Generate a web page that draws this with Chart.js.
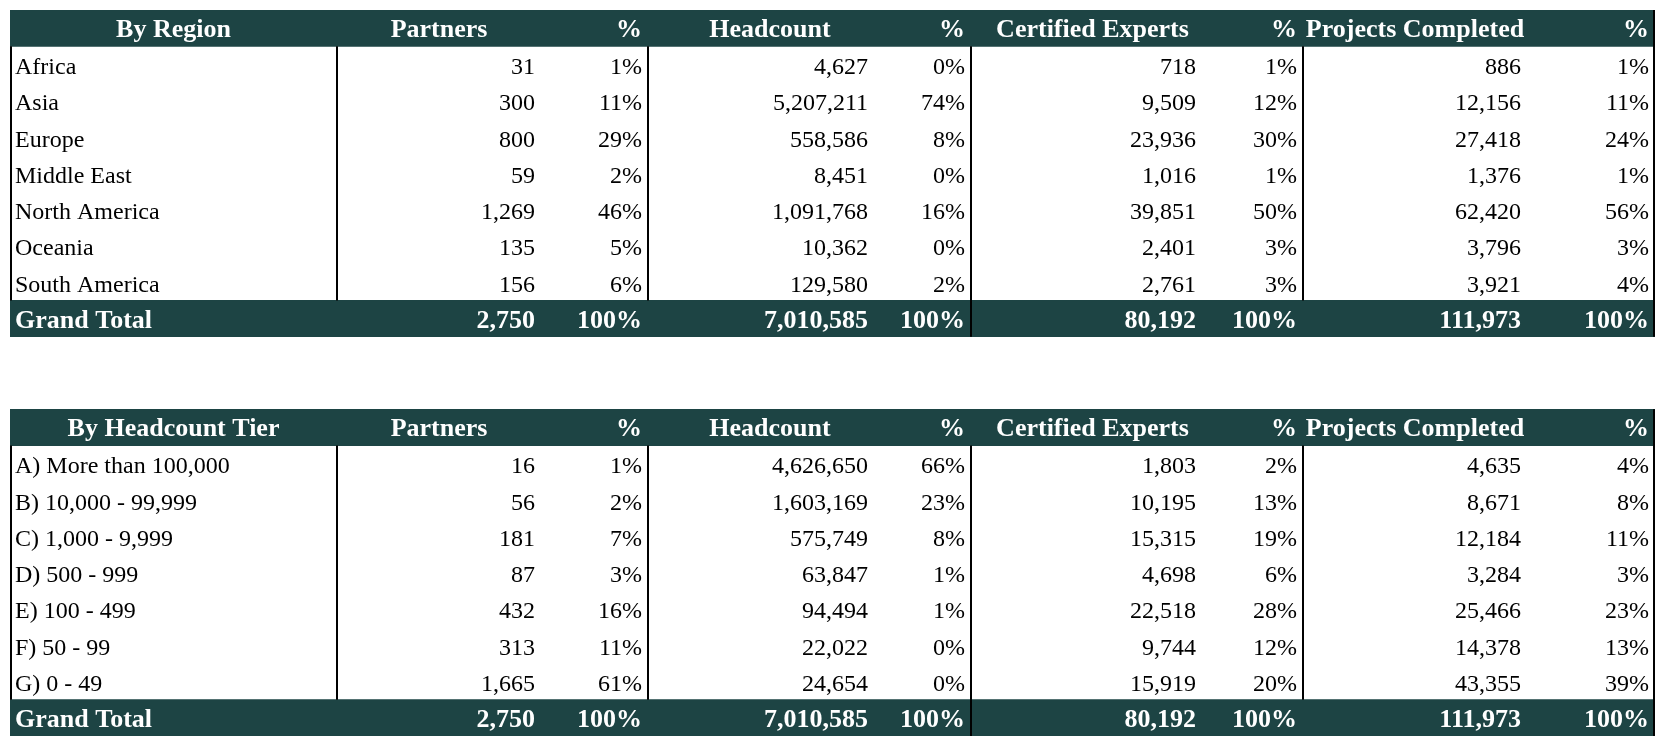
<!DOCTYPE html>
<html>
<head>
<meta charset="utf-8">
<script src="https://cdn.jsdelivr.net/npm/chart.js@4"></script>
<style>
html, body { margin: 0; padding: 0; background: #fff; }
canvas { display: block; }
</style>
</head>
<body>
<canvas id="tbl" width="1672" height="752"></canvas>
<script>
var headers = ['Partners', '%', 'Headcount', '%', 'Certified Experts', '%', 'Projects Completed', '%'];
var tableTitles = ['By Region', 'By Headcount Tier'];

var regions = ['Africa', 'Asia', 'Europe', 'Middle East', 'North America', 'Oceania', 'South America'];
var regionPartners = [31, 300, 800, 59, 1269, 135, 156];
var regionPartnersPct = [1, 11, 29, 2, 46, 5, 6];
var regionHeadcount = [4627, 5207211, 558586, 8451, 1091768, 10362, 129580];
var regionHeadcountPct = [0, 74, 8, 0, 16, 0, 2];
var regionExperts = [718, 9509, 23936, 1016, 39851, 2401, 2761];
var regionExpertsPct = [1, 12, 30, 1, 50, 3, 3];
var regionProjects = [886, 12156, 27418, 1376, 62420, 3796, 3921];
var regionProjectsPct = [1, 11, 24, 1, 56, 3, 4];

var tiers = ['A) More than 100,000', 'B) 10,000 - 99,999', 'C) 1,000 - 9,999', 'D) 500 - 999', 'E) 100 - 499', 'F) 50 - 99', 'G) 0 - 49'];
var tierPartners = [16, 56, 181, 87, 432, 313, 1665];
var tierPartnersPct = [1, 2, 7, 3, 16, 11, 61];
var tierHeadcount = [4626650, 1603169, 575749, 63847, 94494, 22022, 24654];
var tierHeadcountPct = [66, 23, 8, 1, 1, 0, 0];
var tierExperts = [1803, 10195, 15315, 4698, 22518, 9744, 15919];
var tierExpertsPct = [2, 13, 19, 6, 28, 12, 20];
var tierProjects = [4635, 8671, 12184, 3284, 25466, 14378, 43355];
var tierProjectsPct = [4, 8, 11, 3, 23, 13, 39];

var grandTotal = [2750, 7010585, 80192, 111973];
var grandTotalPct = [100, 100, 100, 100];

// column edges on the x scale (table units)
var colEdges = [0, 327, 531, 638, 864, 961, 1192, 1293, 1517, 1645];
// small nudges of the centred header texts
var headShift = [0, 0, 0, 9, 0, 6, 0, 0, 0];
var tableWidth = colEdges[colEdges.length - 1];
var bandColor = '#1d4444';

function fmt(v) { return v.toLocaleString('en-US'); }

function tableRows(title, names, cols) {
	var out = [{ kind: 'head', cells: [title].concat(headers) }];
	names.forEach(function (n, i) {
		var cells = [n];
		cols.forEach(function (c) {
			cells.push(fmt(c[0][i]));
			cells.push(c[1][i] + '%');
		});
		out.push({ kind: 'row', cells: cells });
	});
	var t = ['Grand Total'];
	grandTotal.forEach(function (v, i) {
		t.push(fmt(v));
		t.push(grandTotalPct[i] + '%');
	});
	out.push({ kind: 'total', cells: t });
	return out;
}

var rows = tableRows(tableTitles[0], regions, [
	[regionPartners, regionPartnersPct],
	[regionHeadcount, regionHeadcountPct],
	[regionExperts, regionExpertsPct],
	[regionProjects, regionProjectsPct]
]).concat([{ kind: 'gap' }, { kind: 'gap' }], tableRows(tableTitles[1], tiers, [
	[tierPartners, tierPartnersPct],
	[tierHeadcount, tierHeadcountPct],
	[tierExperts, tierExpertsPct],
	[tierProjects, tierProjectsPct]
]));

var tablePlugin = {
	id: 'tableCells',
	afterDatasetsDraw: function (chart) {
		var ctx = chart.ctx, x = chart.scales.x, y = chart.scales.y;
		var half = (y.getPixelForValue(1) - y.getPixelForValue(0)) / 2;
		ctx.save();

		// grid lines
		ctx.strokeStyle = '#000';
		ctx.lineWidth = 2;
		function vline(px, y0, y1) {
			ctx.beginPath();
			ctx.moveTo(px, y0);
			ctx.lineTo(px, y1);
			ctx.stroke();
		}
		rows.forEach(function (r, i) {
			if (r.kind !== 'head') return;
			var headTop = y.getPixelForValue(i) - half;
			var dataTop = y.getPixelForValue(i + 1) - half;
			var dataBottom = y.getPixelForValue(i + 7) + half;
			var totalBottom = y.getPixelForValue(i + 8) + half;
			vline(x.getPixelForValue(0) + 1, dataTop, dataBottom);
			[1, 3, 7].forEach(function (c) {
				vline(x.getPixelForValue(colEdges[c]), dataTop, dataBottom);
			});
			vline(x.getPixelForValue(colEdges[5]), dataTop, totalBottom);
			vline(x.getPixelForValue(tableWidth) - 1, headTop, totalBottom);
		});

		// cell texts
		rows.forEach(function (r, i) {
			if (r.kind === 'gap') return;
			var cy = y.getPixelForValue(i);
			var bold = r.kind !== 'row';
			ctx.font = bold ? 'bold 26px "Liberation Serif"' : '24px "Liberation Serif"';
			ctx.fillStyle = bold ? '#ffffff' : '#000000';
			ctx.textBaseline = 'alphabetic';
			var base = cy + (bold ? 9 : 9.5);
			r.cells.forEach(function (txt, c) {
				var l = x.getPixelForValue(colEdges[c]);
				var rr = x.getPixelForValue(colEdges[c + 1]);
				if (c === 0 && r.kind !== 'head') {
					ctx.textAlign = 'left';
					ctx.fillText(txt, l + 5, base);
				} else if (r.kind === 'head' && (c === 0 || c % 2 === 1)) {
					ctx.textAlign = 'center';
					ctx.fillText(txt, (l + rr) / 2 + headShift[c], base);
				} else {
					ctx.textAlign = 'right';
					ctx.fillText(txt, rr - 6, base);
				}
			});
		});
		ctx.restore();
	}
};

var ctx = document.getElementById('tbl');
var tableChart = new Chart(ctx, {
	type: 'bar',
	data: {
		labels: rows.map(function (r, i) { return 'row' + i; }),
		datasets: [{
			label: 'bands',
			data: rows.map(function (r) {
				return (r.kind === 'head' || r.kind === 'total') ? [0, tableWidth] : null;
			}),
			backgroundColor: bandColor,
			borderWidth: 0,
			barPercentage: 1,
			categoryPercentage: 1
		}]
	},
	options: {
		indexAxis: 'y',
		responsive: false,
		animation: false,
		layout: { padding: { left: 10, right: 17, top: 10, bottom: 16 } },
		plugins: { legend: { display: false }, tooltip: { enabled: false } },
		scales: {
			x: { type: 'linear', min: 0, max: tableWidth, display: false, grid: { display: false } },
			y: { type: 'category', display: false, offset: true, grid: { display: false } }
		}
	},
	plugins: [tablePlugin]
});
</script>
</body>
</html>
